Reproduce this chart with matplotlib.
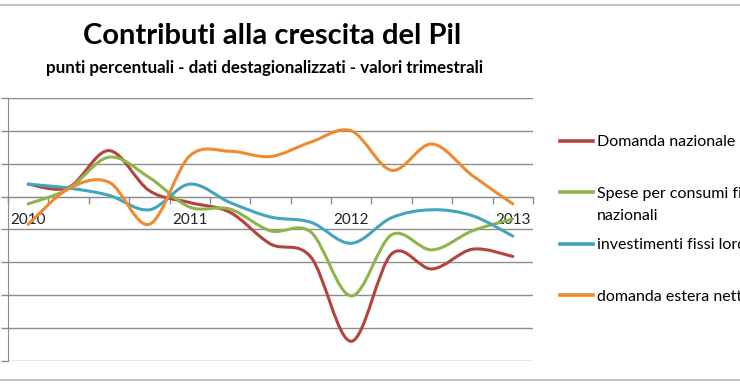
import numpy as np
import matplotlib
matplotlib.use('Agg')
import matplotlib.pyplot as plt
from matplotlib.path import Path
from matplotlib.patches import PathPatch
from matplotlib.lines import Line2D

# dati trimestrali (punti percentuali), 2010 Q1 - 2013 Q1
quarters = ['2010', '', '', '', '2011', '', '', '', '2012', '', '', '', '2013']
domanda_nazionale = [0.19, 0.14, 0.70, 0.09, -0.09, -0.24, -0.72, -0.92, -2.20, -0.87, -1.10, -0.80, -0.91]
spese_consumi = [-0.11, 0.12, 0.60, 0.29, -0.16, -0.19, -0.52, -0.54, -1.51, -0.58, -0.81, -0.52, -0.34]
investimenti = [0.19, 0.13, 0.02, -0.20, 0.19, -0.09, -0.31, -0.39, -0.71, -0.32, -0.20, -0.29, -0.60]
domanda_estera = [-0.42, 0.12, 0.22, -0.42, 0.62, 0.69, 0.61, 0.83, 1.00, 0.40, 0.80, 0.32, -0.11]

series_names = ['Domanda nazionale', 'Spese per consumi finali', 'investimenti fissi lordi', 'domanda estera netta']
colors = ['#B3433F', '#8FB44B', '#43A4BE', '#EF8A31']

plt.rcParams['font.family'] = ['Lato', 'DejaVu Sans']


def smooth_path(y):
    # curva di Bezier come lo "smussamento" di Excel
    pts = np.column_stack([np.arange(len(y)), y]).astype(float)
    verts = [pts[0]]
    codes = [Path.MOVETO]
    for i in range(len(pts) - 1):
        p0 = pts[i - 1] if i > 0 else pts[i]
        p3 = pts[i + 2] if i + 2 < len(pts) else pts[i + 1]
        c1 = pts[i] + (pts[i + 1] - p0) / 6
        c2 = pts[i + 1] - (p3 - pts[i]) / 6
        verts += [c1, c2, pts[i + 1]]
        codes += [Path.CURVE4] * 3
    return Path(verts, codes)


W, H = 740, 389
fig = plt.figure(figsize=(W / 100, H / 100), dpi=100)
ax = fig.add_axes([8 / W, 1 - 361 / H, (533 - 8) / W, (361 - 98) / H])

grey = '#8C8C8C'
ax.set_xlim(-0.5, len(quarters) - 0.5)
ax.set_ylim(-2.5, 1.5)
ax.set_yticks(np.arange(-2.5, 1.51, 0.5))
ax.set_yticklabels([])
ax.yaxis.grid(True, color=grey, lw=1.0)
ax.set_axisbelow(True)

for s in ['top', 'right']:
    ax.spines[s].set_visible(False)
ax.spines['left'].set_color(grey)
ax.spines['bottom'].set_color(grey)
ax.spines['bottom'].set_position(('data', 0))
ax.tick_params(axis='y', length=5, color=grey, width=1)

ax.set_xticks(np.arange(-0.5, len(quarters), 1))
ax.set_xticklabels([])
ax.tick_params(axis='x', which='major', length=5, color=grey, width=1, direction='out')
ax.set_xticks(np.arange(len(quarters)), quarters, minor=True)
ax.tick_params(axis='x', which='minor', length=0, pad=12, labelsize=11, labelcolor='#222222')

all_series = [domanda_nazionale, spese_consumi, investimenti, domanda_estera]
handles = []
for vals, col, name in zip(all_series, colors, series_names):
    ax.add_patch(PathPatch(smooth_path(vals), fill=False, edgecolor=col, lw=2.2,
                           capstyle='round', joinstyle='round', zorder=3))
    handles.append(Line2D([], [], color=col, lw=2.6, label=name))

leg = fig.legend(handles=handles, loc='upper left', bbox_to_anchor=(560 / W, 1 - 135 / H),
                 frameon=False, fontsize=11.5, handlelength=2.06, handletextpad=0.25,
                 labelspacing=2.34, borderaxespad=0, borderpad=0)

fig.canvas.draw()
bb = leg.get_texts()[1].get_window_extent()
fig.text(bb.x0 / W, (bb.y0 - 22) / H, 'nazionali', fontsize=11.5, ha='left', va='bottom')

fig.text(272 / W, 1 - 36 / H, 'Contributi alla crescita del Pil', fontsize=21,
         fontweight='bold', ha='center', va='center')
fig.text(264 / W, 1 - 68 / H, 'punti percentuali - dati destagionalizzati - valori trimestrali',
         fontsize=12.2, fontweight='bold', ha='center', va='center')

# bordo del grafico
for yy in [5, 380]:
    fig.add_artist(Line2D([0, 1], [1 - yy / H] * 2, transform=fig.transFigure,
                          color='#C0C0C0', lw=1.5))

fig.savefig('out.png', dpi=100)
